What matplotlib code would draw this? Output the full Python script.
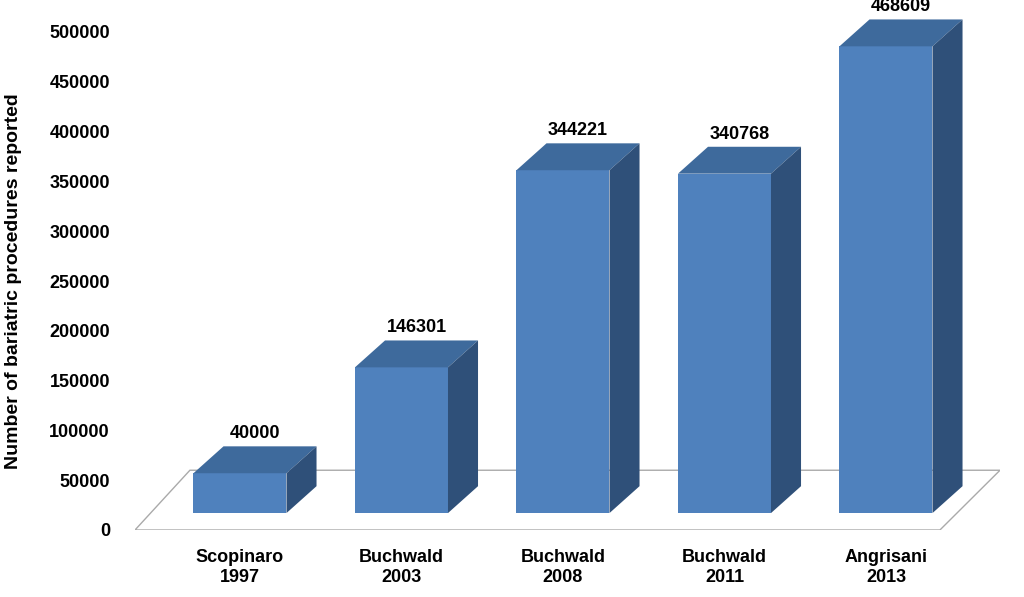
import numpy as np
import matplotlib.pyplot as plt
from matplotlib.patches import Polygon

plt.rcParams['font.family'] = ['Liberation Sans', 'DejaVu Sans']

categories = ['Scopinaro\n1997', 'Buchwald\n2003', 'Buchwald\n2008', 'Buchwald\n2011', 'Angrisani\n2013']
values = [40000, 146301, 344221, 340768, 468609]
yticks = np.arange(0, 500001, 50000)

front_col = '#4F81BD'
top_col = '#3E6A9C'
side_col = '#2F5079'

fig = plt.figure(figsize=(10.24, 5.97), dpi=100)
ax = fig.add_axes([135 / 1024, 67 / 597, 865 / 1024, 498 / 597])
ax.set_xlim(-0.65, 4.706)
ax.set_ylim(0, 500000)

w = 0.576      # bar width
dx = 0.186     # depth offset in x
dy = 27000     # depth offset in y
base = 17000   # front face baseline

# floor
floor = Polygon([(-0.65, 0), (4.334, 0), (4.706, 60000), (-0.31, 60000)],
                closed=True, facecolor='white', edgecolor='#AAAAAA', lw=1, zorder=1)
ax.add_patch(floor)

for i, v in enumerate(values):
    x0, x1 = i - w / 2, i + w / 2
    top = base + v
    ax.add_patch(Polygon([(x0, base), (x1, base), (x1, top), (x0, top)],
                         facecolor=front_col, edgecolor='none', zorder=3, clip_on=False))
    ax.add_patch(Polygon([(x0, top), (x1, top), (x1 + dx, top + dy), (x0 + dx, top + dy)],
                         facecolor=top_col, edgecolor='none', zorder=3, clip_on=False))
    ax.add_patch(Polygon([(x1, base), (x1 + dx, base + dy), (x1 + dx, top + dy), (x1, top)],
                         facecolor=side_col, edgecolor='none', zorder=3, clip_on=False))
    ax.text(i + dx / 2, top + dy + 4000, str(v), ha='center', va='bottom',
            fontsize=13, fontweight='bold', zorder=4)

ax.set_yticks(yticks)
ax.set_yticklabels([str(t) for t in yticks], fontsize=13, fontweight='bold')
ax.set_xticks(range(len(categories)))
ax.set_xticklabels(categories, fontsize=13, fontweight='bold')
ax.tick_params(axis='both', length=0)
ax.tick_params(axis='y', pad=18)
ax.tick_params(axis='x', pad=14)
for s in ax.spines.values():
    s.set_visible(False)
ax.set_ylabel('Number of bariatric procedures reported', fontsize=14, fontweight='bold')
ax.yaxis.set_label_coords(-113 / 865, 0.5)

fig.savefig('out.png', dpi=100)
